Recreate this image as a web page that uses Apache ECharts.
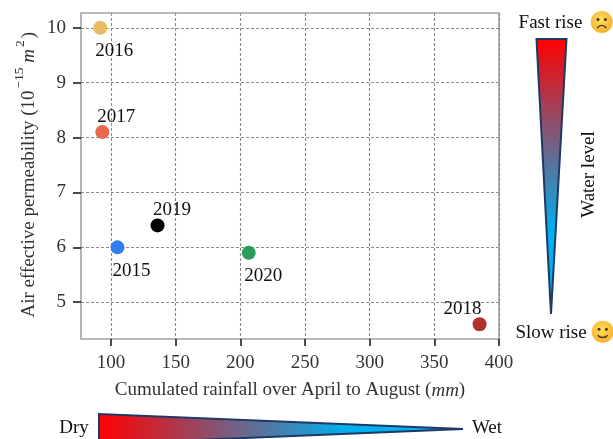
<!DOCTYPE html>
<html><head><meta charset="utf-8">
<style>html,body{margin:0;padding:0;background:#fff}#c{width:613px;height:439px}</style>
<script src="https://cdn.jsdelivr.net/npm/echarts@6/dist/echarts.min.js"></script>
</head><body><div id="c"></div>
<script>
const years = ['2015','2016','2017','2018','2019','2020'];
const rainfall = [105, 91.7, 93.3, 385, 136, 206.5];
const permeability = [6, 10, 8.1, 4.6, 6.4, 5.9];
const pointColors = ['#2f7fef','#e8bd62','#e6694d','#b2302a','#000000','#2a9d5a'];
const labelOffsets = [[14,24],[14,23.5],[14,-15.5],[-17,-15.5],[14.5,-15.5],[14.5,23]];
const xTicks = [100,150,200,250,300,350,400];
const yTicks = [5,6,7,8,9,10];
const serif = '"Liberation Serif","Times New Roman",serif';
const chart = echarts.init(document.getElementById('c'), null, {renderer:'canvas'});
function face(cx, cy, happy){
  const r = 11;
  return {type:'group', children:[
    {type:'circle', shape:{cx, cy, r}, style:{fill:new echarts.graphic.RadialGradient(0.45,0.4,0.7,[{offset:0,color:'#ffdf5e'},{offset:1,color:'#f7a823'}])}},
    {type:'circle', shape:{cx:cx-3.7, cy:cy-2.5, r:1.5}, style:{fill:'#4a3418'}},
    {type:'circle', shape:{cx:cx+3.7, cy:cy-2.5, r:1.5}, style:{fill:'#4a3418'}},
    {type:'bezierCurve', shape: happy
      ? {x1:cx-5,y1:cy+3.5,x2:cx+5,y2:cy+3.5,cpx1:cx-2.5,cpy1:cy+6.5,cpx2:cx+2.5,cpy2:cy+6.5}
      : {x1:cx-4.5,y1:cy+6,x2:cx+4.5,y2:cy+6,cpx1:cx-2,cpy1:cy+2.5,cpx2:cx+2,cpy2:cy+2.5},
      style:{stroke:'#4a3418', lineWidth:1.4, fill:null}}
  ]};
}
const txt = (x,y,text,size=19,color='#111',font='') => ({type:'text', x, y, style:{text, fill:color, font:font+' '+size+'px '+serif, align:'center', verticalAlign:'middle'}});
const vtxt = (x,y,text,size=19,color='#333',font='') => ({type:'text', x, y, rotation:Math.PI/2, style:{text, fill:color, font:font+' '+size+'px '+serif, align:'center', verticalAlign:'middle'}});
chart.setOption({
  animation:false,
  backgroundColor:'#fff',
  grid:{left:81,top:13,width:418,height:326,show:true,borderColor:'#a3a3a3',borderWidth:1.6,backgroundColor:'transparent'},
  xAxis:{type:'value',min:76.8,max:400,
    axisLine:{show:false},
    axisTick:{show:true,length:7,customValues:xTicks,lineStyle:{color:'#111',width:1.5}},
    axisLabel:{customValues:xTicks,color:'#333',fontFamily:serif,fontSize:19,margin:15},
    splitLine:{show:true,lineStyle:{color:'#8c8c8c',type:[3,2],width:1.1}},
    name:'Cumulated rainfall over April to August ({i|mm})',nameLocation:'middle',nameGap:42,
    nameTextStyle:{color:'#333',fontFamily:serif,fontSize:19,rich:{i:{fontStyle:'italic',fontFamily:serif,fontSize:19,color:'#333'}}}},
  yAxis:{type:'value',min:4.33,max:10.27,
    axisLine:{show:false},
    axisTick:{show:true,length:8,customValues:yTicks,lineStyle:{color:'#111',width:1.5}},
    axisLabel:{customValues:yTicks,color:'#333',fontFamily:serif,fontSize:19,margin:15,padding:[3,0,0,0]},
    splitLine:{show:true,lineStyle:{color:'#8c8c8c',type:[3,2],width:1.1}}},
  series:[{type:'scatter',symbolSize:14,
    data:years.map((y,i)=>({value:[rainfall[i],permeability[i]],name:y,
      itemStyle:{color:pointColors[i],opacity:1},
      label:{show:true,position:'inside',offset:labelOffsets[i],formatter:y,color:'#111',opacity:1,fontFamily:serif,fontSize:19}})),
    z:5}],
  graphic:[
    {type:'group',silent:true,children:[
      vtxt(29,204,'Air effective permeability (10'),
      vtxt(19,78,'\u221215',13.5),
      vtxt(29,56,'m',19,'#333','italic'),
      vtxt(20,43.5,'2',13.5),
      vtxt(29,35,')'),
      {type:'polygon',shape:{points:[[536.5,39],[566.5,39],[551,314]]},
        style:{stroke:'#1f3864',lineWidth:2,lineJoin:'miter',
          fill:new echarts.graphic.LinearGradient(0,0,0,1,[{offset:0,color:'#ff0000'},{offset:0.7,color:'#00b0f0'},{offset:1,color:'#00b0f0'}])}},
      {type:'polygon',shape:{points:[[99,414],[99,444],[463,429]]},
        style:{stroke:'#1f3864',lineWidth:2,
          fill:new echarts.graphic.LinearGradient(0,0,1,0,[{offset:0,color:'#ff0000'},{offset:0.68,color:'#00b0f0'},{offset:1,color:'#00b0f0'}])}},
      txt(550.5,23.5,'Fast rise'),txt(551,333,'Slow rise'),
      txt(74,428,'Dry'),txt(487,428,'Wet'),
      vtxt(589,174.5,'Water level',19,'#111'),
      face(601.7,22,false),face(602.7,331.7,true)
    ]}
  ]
});
</script></body></html>
